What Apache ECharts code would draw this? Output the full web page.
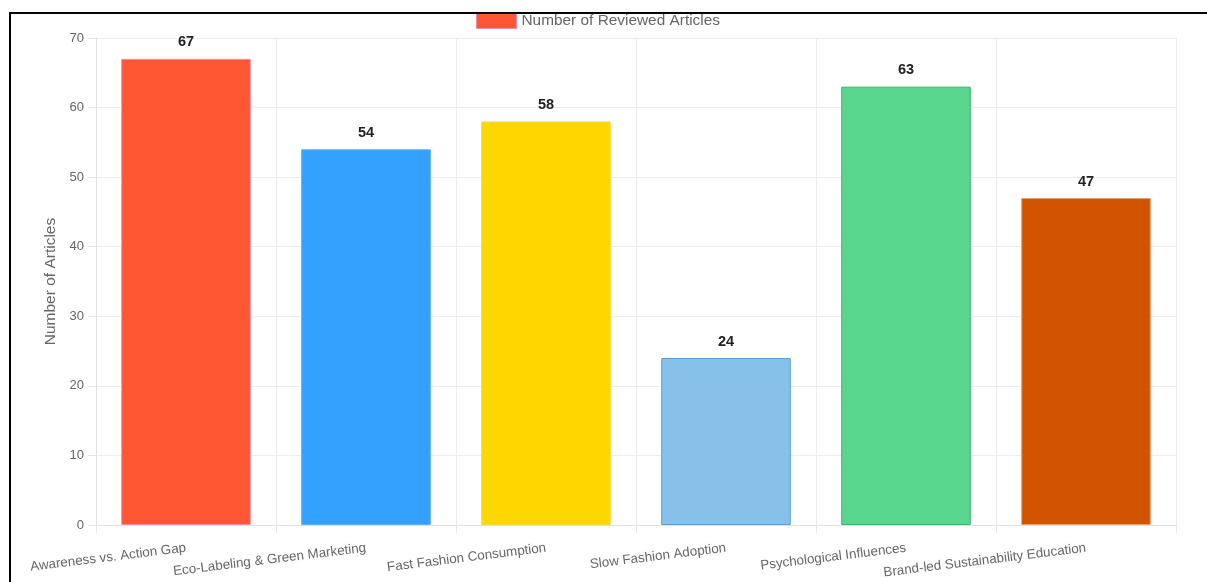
<!DOCTYPE html>
<html>
<head>
<meta charset="utf-8">
<script src="https://cdn.jsdelivr.net/npm/echarts@6/dist/echarts.min.js"></script>
<style>
html,body{margin:0;padding:0;background:#fff;}
#chart{width:1207px;height:582px;}
</style>
</head>
<body>
<div id="chart"></div>
<script>
const categories = ["Awareness vs. Action Gap","Eco-Labeling & Green Marketing","Fast Fashion Consumption","Slow Fashion Adoption","Psychological Influences","Brand-led Sustainability Education"];
const values = [67, 54, 58, 24, 63, 47];
const barColors = ["#FF5733","#33A1FF","#FFD700","#85C1E9","#58D68D","#D35400"];
const borderColors = ["#E98FB0","#5AAFEF","#F5D640","#5D9FD8","#3FB36E","#E8A070"];
const seriesName = "Number of Reviewed Articles";
const yAxisTitle = "Number of Articles";

const chart = echarts.init(document.getElementById('chart'));
const font = "'Liberation Sans', Arial, Helvetica, sans-serif";
chart.setOption({
  animation: false,
  textStyle: {fontFamily: font},
  legend: {
    data: [{name: seriesName, icon: 'rect', itemStyle: {color: barColors[0], borderColor: borderColors[0], borderWidth: 1}}],
    left: 476, top: 12, padding: 0,
    itemWidth: 40, itemHeight: 16,
    textStyle: {fontSize: 15.4, color: '#666', fontFamily: font}
  },
  grid: {left: 96, right: 31, top: 38, bottom: 57, containLabel: false},
  xAxis: {
    type: 'category',
    data: categories,
    boundaryGap: true,
    axisLine: {lineStyle: {color: '#e0e0e0'}},
    axisTick: {show: true, length: 8, lineStyle: {color: '#e6e6e6'}},
    splitLine: {show: true, lineStyle: {color: '#ececec'}},
    axisLabel: {rotate: 7, interval: 0, fontSize: 13.4, color: '#666', margin: 23, fontFamily: font}
  },
  yAxis: {
    type: 'value',
    min: 0, max: 70, interval: 10,
    name: yAxisTitle,
    nameLocation: 'middle',
    nameGap: 33,
    nameTextStyle: {fontSize: 15.5, color: '#666', fontFamily: font},
    axisLine: {show: true, lineStyle: {color: '#e0e0e0'}},
    axisTick: {show: true, length: 8, lineStyle: {color: '#e6e6e6'}},
    splitLine: {lineStyle: {color: '#ececec'}},
    axisLabel: {fontSize: 13, color: '#666', margin: 12, fontFamily: font}
  },
  series: [{
    name: seriesName,
    type: 'bar',
    barCategoryGap: '28%',
    data: values.map((v, i) => ({value: v, itemStyle: {color: barColors[i], borderColor: borderColors[i], borderWidth: 1}})),
    label: {show: true, position: 'top', distance: 9, fontSize: 14.5, fontWeight: 'bold', color: '#222', fontFamily: font}
  }],
  graphic: [{
    type: 'rect', z: 100, silent: true,
    shape: {x: 10, y: 13, width: 1400, height: 800},
    style: {fill: 'none', stroke: '#000', lineWidth: 2}
  }]
});
</script>
</body>
</html>
